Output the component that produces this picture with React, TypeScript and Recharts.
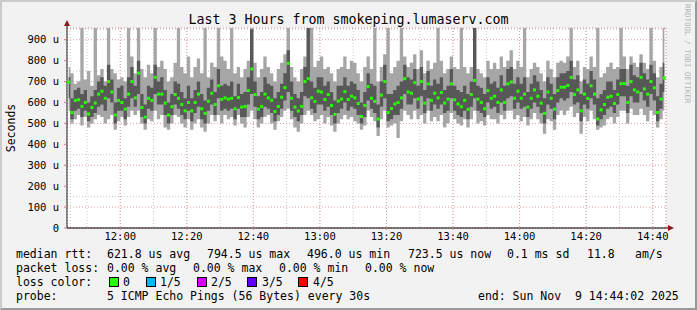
import { ComposedChart, Area, Scatter, XAxis, YAxis, CartesianGrid } from 'recharts';

// one sample per minute, starting 11:44
const START_MIN = 11 * 60 + 44;

const MEDIAN = [
  697, 552, 610, 613, 581, 600, 545, 576, 597, 640, 654, 620, 700, 650, 540, 610, 600, 568, 640, 700,
  622, 740, 576, 530, 620, 610, 720, 640, 640, 597, 540, 580, 638, 620, 590, 560, 600, 560, 600, 640,
  570, 548, 606, 644, 590, 680, 615, 622, 616, 620, 570, 624, 578, 581, 657, 760, 638, 568, 581, 640,
  622, 610, 557, 581, 625, 671, 787, 620, 578, 559, 581, 700, 714, 622, 605, 654, 650, 614, 638, 586,
  543, 606, 616, 652, 614, 630, 622, 595, 533, 586, 676, 620, 605, 521, 635, 700, 552, 571, 593, 600,
  622, 714, 650, 644, 695, 616, 700, 597, 689, 610, 644, 622, 648, 597, 616, 689, 613, 593, 580, 610,
  567, 638, 705, 616, 600, 570, 657, 620, 630, 600, 660, 600, 689, 698, 620, 654, 620, 640, 578, 620,
  660, 630, 597, 548, 650, 620, 568, 657, 673, 673, 681, 720, 638, 660, 560, 640, 619, 680, 640, 521,
  565, 590, 625, 630, 595, 638, 690, 690, 600, 700, 660, 650, 720, 665, 640, 700, 670, 552, 616, 717,
];

const MAX_RTT = [
  770, 740, 690, 700, 960, 710, 750, 680, 960, 730, 760, 700, 960, 760, 740, 710, 720, 700, 960, 820,
  740, 960, 760, 720, 780, 740, 960, 770, 800, 760, 700, 720, 790, 960, 770, 740, 820, 720, 770, 810,
  740, 960, 720, 790, 770, 960, 820, 800, 760, 960, 740, 770, 720, 760, 800, 960, 790, 720, 760, 820,
  770, 740, 700, 760, 790, 830, 960, 770, 720, 700, 760, 820, 960, 960, 770, 800, 820, 760, 770, 740,
  700, 760, 770, 820, 760, 800, 790, 740, 700, 770, 820, 760, 960, 700, 770, 830, 960, 740, 770, 800,
  960, 820, 770, 790, 830, 760, 850, 740, 800, 760, 790, 960, 800, 740, 760, 820, 770, 760, 960, 770,
  740, 770, 960, 760, 740, 720, 800, 760, 790, 760, 820, 770, 800, 850, 760, 800, 770, 960, 720, 760,
  790, 770, 740, 700, 800, 760, 720, 790, 800, 790, 820, 960, 770, 800, 700, 770, 760, 820, 770, 960,
  720, 740, 770, 790, 760, 770, 960, 820, 760, 820, 790, 770, 830, 790, 760, 960, 800, 720, 770, 960,
];

const MIN_RTT = [
  560, 500, 520, 540, 490, 530, 480, 500, 520, 540, 530, 500, 520, 540, 470, 510, 530, 490, 530, 560,
  540, 560, 500, 470, 520, 510, 560, 520, 540, 480, 470, 500, 540, 530, 500, 480, 520, 470, 500, 520,
  480, 460, 500, 540, 510, 540, 500, 540, 520, 530, 490, 540, 500, 480, 530, 560, 520, 480, 500, 530,
  540, 500, 470, 510, 530, 560, 570, 520, 480, 460, 500, 540, 560, 540, 510, 520, 540, 500, 530, 490,
  460, 500, 520, 540, 520, 530, 510, 500, 470, 490, 560, 530, 510, 440, 520, 560, 480, 490, 500, 430,
  510, 560, 540, 520, 560, 520, 540, 500, 560, 510, 530, 510, 540, 480, 500, 550, 520, 500, 490, 520,
  480, 520, 560, 500, 510, 490, 540, 520, 520, 500, 540, 520, 560, 560, 520, 540, 510, 530, 490, 520,
  550, 520, 500, 450, 520, 510, 470, 540, 560, 540, 560, 580, 530, 550, 450, 530, 510, 560, 520, 470,
  480, 490, 520, 530, 500, 530, 560, 560, 500, 570, 540, 540, 570, 540, 510, 560, 540, 480, 520, 560,
];

// darker smoke: the middle pings
const SMOKE_LO = [
  620, 520, 560, 570, 530, 560, 510, 530, 550, 580, 590, 560, 620, 600, 500, 560, 560, 520, 580, 620,
  580, 640, 530, 500, 570, 560, 640, 590, 590, 540, 500, 540, 590, 570, 540, 520, 560, 510, 550, 580,
  520, 500, 560, 590, 540, 620, 560, 570, 560, 570, 520, 570, 530, 530, 590, 640, 580, 520, 530, 580,
  570, 550, 510, 540, 570, 610, 650, 560, 530, 510, 540, 630, 620, 570, 550, 590, 590, 560, 580, 540,
  500, 550, 570, 600, 560, 580, 570, 540, 500, 530, 610, 570, 550, 480, 580, 620, 510, 520, 540, 540,
  570, 640, 590, 590, 620, 570, 630, 550, 620, 560, 590, 570, 590, 550, 560, 620, 560, 540, 530, 560,
  520, 580, 620, 560, 550, 530, 600, 570, 580, 550, 600, 560, 620, 630, 570, 600, 570, 580, 530, 570,
  600, 580, 550, 500, 590, 570, 520, 600, 620, 610, 620, 650, 590, 600, 510, 590, 570, 620, 590, 490,
  520, 540, 570, 580, 550, 590, 630, 630, 550, 630, 600, 600, 650, 610, 580, 640, 610, 510, 570, 650,
];

const SMOKE_HI = [
  720, 620, 660, 670, 640, 660, 600, 630, 660, 700, 720, 680, 780, 710, 600, 670, 680, 620, 720, 770,
  680, 800, 640, 590, 680, 670, 780, 700, 720, 660, 600, 640, 700, 690, 650, 620, 680, 620, 660, 700,
  640, 610, 670, 710, 650, 760, 680, 690, 680, 700, 630, 690, 640, 650, 720, 950, 700, 630, 650, 720,
  690, 680, 620, 650, 690, 740, 850, 700, 640, 620, 650, 770, 960, 700, 670, 720, 720, 680, 700, 650,
  610, 680, 680, 720, 680, 700, 690, 660, 600, 650, 740, 690, 680, 590, 700, 780, 640, 640, 660, 680,
  700, 780, 720, 710, 760, 680, 770, 660, 750, 680, 710, 690, 720, 660, 680, 760, 680, 660, 650, 680,
  640, 700, 960, 680, 670, 640, 720, 690, 700, 670, 730, 680, 760, 770, 690, 720, 690, 720, 650, 690,
  730, 700, 660, 620, 720, 690, 640, 720, 740, 740, 750, 800, 710, 730, 640, 710, 690, 750, 710, 620,
  640, 660, 700, 700, 660, 710, 760, 760, 680, 780, 730, 720, 790, 740, 710, 780, 740, 630, 690, 790,
];

const TIME_LABELS = ['12:00', '12:20', '12:40', '13:00', '13:20', '13:40', '14:00', '14:20', '14:40'];
const Y_TICKS = [0, 100, 200, 300, 400, 500, 600, 700, 800, 900];
const Y_MINOR = [50, 150, 250, 350, 450, 550, 650, 750, 850, 950];
const Y_MAX = 956;

const toIdx = (s: string) => {
  const [h, m] = s.split(':').map(Number);
  return h * 60 + m - START_MIN;
};
const TIME_TICKS = TIME_LABELS.map(toIdx);
const MINOR_TIME_TICKS = Array.from({ length: 36 }, (_, k) => 1 + k * 5);

const fmtTime = (v: number) => {
  const t = START_MIN + v;
  return `${Math.floor(t / 60)}:${String(t % 60).padStart(2, '0')}`;
};

const data = MEDIAN.map((m, i) => ({
  t: i + 0.5,
  med: m,
  range: [MIN_RTT[i], MAX_RTT[i]],
  smoke: [SMOKE_LO[i], SMOKE_HI[i]],
}));

const FONT = '"DejaVu Sans Mono", monospace';
const LOSS_COLORS = [
  { label: '0', color: '#26ff00', box: 109, text: 123 },
  { label: '1/5', color: '#00b8ff', box: 146, text: 160 },
  { label: '2/5', color: '#d400ff', box: 197, text: 211 },
  { label: '3/5', color: '#6000ff', box: 247, text: 262 },
  { label: '4/5', color: '#ff0000', box: 298, text: 313 },
];

function T({ x, y, children }: { x: number; y: number; children: React.ReactNode }) {
  return (
    <div
      style={{
        position: 'absolute',
        left: x,
        top: y,
        fontFamily: FONT,
        fontSize: 11.5,
        lineHeight: '14px',
        whiteSpace: 'pre',
        color: '#000',
      }}
    >
      {children}
    </div>
  );
}

const medianDot = (p: any) => (
  <rect x={p.cx - 1.5} y={p.cy - 1.5} width={3} height={3} fill="#26ff00" />
);

export default function App() {
  return (
    <div
      style={{
        position: 'absolute',
        left: 0,
        top: 0,
        width: 697,
        height: 310,
        background: '#f2f2f2',
        boxSizing: 'border-box',
        borderTop: '2px solid #cbcbcb',
        borderLeft: '2px solid #cbcbcb',
        borderRight: '2px solid #999',
        borderBottom: '2px solid #999',
        overflow: 'hidden',
      }}
    >
      <div style={{ position: 'absolute', left: -2, top: -2 }}>
        <ComposedChart
          width={697}
          height={310}
          data={data}
          margin={{ top: 28, right: 31, bottom: 52, left: 8 }}
        >
          <XAxis xAxisId="minor" type="number" dataKey="t" domain={[0, 180]} ticks={MINOR_TIME_TICKS} hide />
          <YAxis yAxisId="minor" type="number" domain={[0, Y_MAX]} ticks={Y_MINOR} allowDataOverflow hide />
          <CartesianGrid
            xAxisId="minor"
            yAxisId="minor"
            stroke="#c8c8c8"
            strokeDasharray="1 2"
            fill="#ffffff"
          />
          <CartesianGrid stroke="#eb9a9a" strokeDasharray="1 2" />
          <XAxis
            type="number"
            dataKey="t"
            domain={[0, 180]}
            ticks={TIME_TICKS}
            tickFormatter={fmtTime}
            height={30}
            axisLine={{ stroke: '#000' }}
            tickLine={{ stroke: '#e08080' }}
            tickSize={2}
            tickMargin={3}
            tick={{ fontFamily: FONT, fontSize: 10.5, fill: '#000' }}
          />
          <YAxis
            type="number"
            domain={[0, Y_MAX]}
            ticks={Y_TICKS}
            allowDataOverflow
            width={59}
            tickFormatter={(v: number) => (v === 0 ? '0' : `${v} u`)}
            axisLine={{ stroke: '#222' }}
            tickLine={{ stroke: '#c08080' }}
            tickSize={3}
            tickMargin={5}
            tick={{ fontFamily: FONT, fontSize: 10.5, fill: '#000' }}
          />
          <Area
            dataKey="range"
            type="step"
            stroke="none"
            fill="#a6a6a6"
            fillOpacity={1}
            isAnimationActive={false}
          />
          <Area
            dataKey="smoke"
            type="step"
            stroke="none"
            fill="#585858"
            fillOpacity={1}
            isAnimationActive={false}
          />
          <Scatter dataKey="med" shape={medianDot} isAnimationActive={false} />
        </ComposedChart>

        {/* axis arrows */}
        <svg width={697} height={310} style={{ position: 'absolute', left: 0, top: 0, pointerEvents: 'none' }}>
          <line x1={67} y1={22} x2={67} y2={28} stroke="#222" />
          <polygon points="67,20 64,26 70,26" fill="#8b1a1a" />
          <line x1={666} y1={228} x2={670} y2={228} stroke="#000" />
          <polygon points="674,228 668,225 668,231" fill="#8b1a1a" />
        </svg>

        <div
          style={{
            position: 'absolute',
            left: 0,
            width: 697,
            top: 11,
            textAlign: 'center',
            fontFamily: FONT,
            fontSize: 13.3,
            lineHeight: '18px',
          }}
        >
          Last 3 Hours from smokeping.lumaserv.com
        </div>

        <div
          style={{
            position: 'absolute',
            left: 11,
            top: 128,
            transform: 'translate(-50%, -50%) rotate(-90deg)',
            fontFamily: FONT,
            fontSize: 11.5,
            whiteSpace: 'pre',
          }}
        >
          Seconds
        </div>

        <div
          style={{
            position: 'absolute',
            left: 683,
            top: 4,
            writingMode: 'vertical-rl',
            fontFamily: FONT,
            fontSize: 7.5,
            color: '#b4b4b4',
            whiteSpace: 'pre',
          }}
        >
          RRDTOOL / TOBI OETIKER
        </div>

        <T x={16} y={247}>median rtt:</T>
        <T x={107} y={247}>621.8 us avg</T>
        <T x={207} y={247}>794.5 us max</T>
        <T x={307} y={247}>496.0 us min</T>
        <T x={408} y={247}>723.5 us now</T>
        <T x={507} y={247}>0.1 ms sd</T>
        <T x={587} y={247}>11.8</T>
        <T x={635} y={247}>am/s</T>

        <T x={16} y={261}>packet loss:</T>
        <T x={107} y={261}>0.00 % avg</T>
        <T x={193} y={261}>0.00 % max</T>
        <T x={279} y={261}>0.00 % min</T>
        <T x={365} y={261}>0.00 % now</T>

        <T x={16} y={275}>loss color:</T>
        {LOSS_COLORS.map((c) => (
          <div key={c.label}>
            <div
              style={{
                position: 'absolute',
                left: c.box,
                top: 277,
                width: 8,
                height: 8,
                background: c.color,
                border: '1px solid #000',
              }}
            />
            <T x={c.text} y={275}>{c.label}</T>
          </div>
        ))}

        <T x={16} y={289}>probe:</T>
        <T x={107} y={289}>5 ICMP Echo Pings (56 Bytes) every 30s</T>
        <T x={478} y={289}>end: Sun Nov  9 14:44:02 2025</T>
      </div>
    </div>
  );
}
